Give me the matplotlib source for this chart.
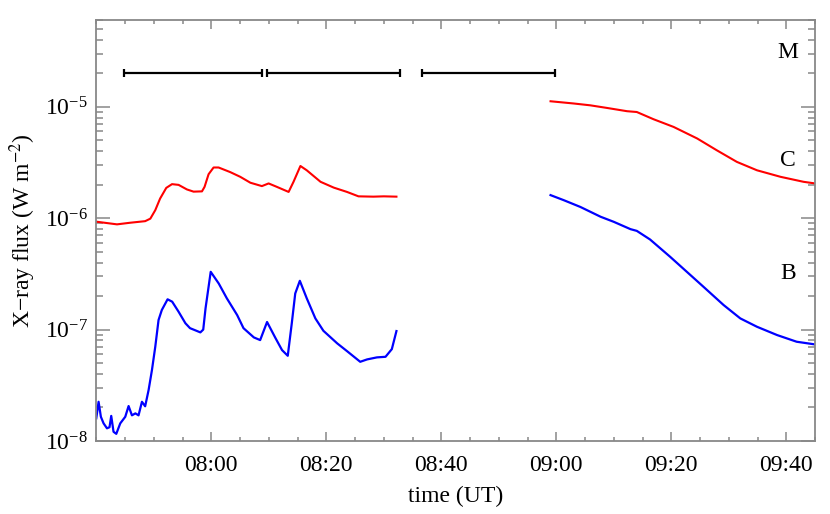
import numpy as np
import pandas as pd
import matplotlib
matplotlib.use('Agg')
import matplotlib.pyplot as plt
import matplotlib.dates as mdates
import matplotlib.ticker as mticker

plt.rcParams['font.family'] = 'Liberation Serif'
plt.rcParams['mathtext.fontset'] = 'stix'
plt.rcParams.update({'font.size': 17})

# reference time; all times below are minutes after 07:40 UT
t_ref = pd.Timestamp('2000-01-01 07:40:00')
x_ticks = ['08:00', '08:20', '08:40', '09:00', '09:20', '09:40']

# low-energy channel (red), before the gap
red1_t = [0, 3.6, 5.9, 8.5, 9.4, 10.26, 11.1, 12.17, 13.17, 14.31, 15.77, 16.92, 18.38,
          18.83, 19.53, 20.4, 21.27, 23.3, 25.04, 26.8, 28.8, 29.97, 31.4, 33.45, 34.3,
          35.5, 36.6, 39.0, 41.3, 43.6, 45.6, 48.2, 50.0, 52.2]
red1_f = [9.3e-7, 8.8e-7, 9.1e-7, 9.4e-7, 9.9e-7, 1.18e-6, 1.50e-6, 1.87e-6, 2.02e-6,
          1.99e-6, 1.81e-6, 1.73e-6, 1.74e-6, 1.91e-6, 2.48e-6, 2.85e-6, 2.85e-6, 2.59e-6,
          2.35e-6, 2.08e-6, 1.94e-6, 2.05e-6, 1.91e-6, 1.72e-6, 2.12e-6, 2.94e-6, 2.69e-6,
          2.12e-6, 1.88e-6, 1.72e-6, 1.57e-6, 1.56e-6, 1.57e-6, 1.56e-6]

# high-energy channel (blue), before the gap
blue1_t = [0, 0.4, 0.8, 1.27, 1.86, 2.3, 2.6, 3.0, 3.48, 4.17, 5.04, 5.62, 6.2, 6.8, 7.35,
           7.94, 8.5, 9.1, 9.68, 10.26, 10.83, 11.4, 12.4, 13.2, 14.3, 15.5, 16.3, 18.1,
           18.6, 19.0, 19.9, 21.3, 22.7, 24.5, 25.6, 27.4, 28.5, 29.7, 31.1, 32.3, 33.3,
           34.0, 34.6, 35.4, 36.6, 38.1, 39.5, 41.9, 43.6, 45.9, 47.1, 48.8, 50.3, 51.4, 52.2]
blue1_f = [1.60e-8, 2.25e-8, 1.65e-8, 1.44e-8, 1.30e-8, 1.33e-8, 1.68e-8, 1.21e-8, 1.16e-8,
           1.44e-8, 1.65e-8, 2.06e-8, 1.70e-8, 1.77e-8, 1.70e-8, 2.25e-8, 2.05e-8, 2.87e-8,
           4.33e-8, 7.02e-8, 1.22e-7, 1.50e-7, 1.87e-7, 1.78e-7, 1.45e-7, 1.14e-7, 1.03e-7,
           9.44e-8, 1.00e-7, 1.55e-7, 3.30e-7, 2.59e-7, 1.91e-7, 1.35e-7, 1.03e-7, 8.51e-8,
           8.05e-8, 1.17e-7, 8.51e-8, 6.55e-8, 5.82e-8, 1.14e-7, 2.11e-7, 2.74e-7, 1.91e-7,
           1.26e-7, 9.75e-8, 7.52e-8, 6.41e-8, 5.14e-8, 5.40e-8, 5.63e-8, 5.70e-8, 6.68e-8,
           9.70e-8]

# after the gap
red2_t = [79.0, 83.0, 85.9, 88.8, 92.3, 94.0, 96.9, 100.4, 104.5, 107.9, 111.4, 114.9,
          119.0, 123.0, 125.0]
red2_f = [1.12e-5, 1.07e-5, 1.03e-5, 9.76e-6, 9.12e-6, 8.97e-6, 7.73e-6, 6.59e-6, 5.19e-6,
          4.07e-6, 3.20e-6, 2.69e-6, 2.35e-6, 2.12e-6, 2.05e-6]

blue2_t = [79.0, 81.3, 84.2, 87.7, 90.0, 92.9, 94.0, 96.3, 99.8, 102.7, 105.6, 109.1,
           112.0, 114.9, 118.4, 121.8, 125.0]
blue2_f = [1.61e-6, 1.45e-6, 1.26e-6, 1.03e-6, 9.27e-7, 7.97e-7, 7.69e-7, 6.44e-7, 4.50e-7,
           3.30e-7, 2.42e-7, 1.66e-7, 1.26e-7, 1.06e-7, 8.93e-8, 7.78e-8, 7.36e-8]

# observing intervals (start, end) in minutes after 07:40
int_start = [4.75, 29.7, 56.6]
int_end = [28.8, 52.9, 79.8]
int_level = 2e-5

# GOES class labels
cls_names = ['M', 'C', 'B']
cls_level = [3.1e-5, 3.3e-6, 3.2e-7]
cls_t = 120.3


def to_num(mins):
    return mdates.date2num(t_ref + pd.to_timedelta(np.asarray(mins), unit='m'))


fig = plt.figure(figsize=(8.3, 5.14), dpi=100)
ax = fig.add_axes([0.116, 0.142, 0.866, 0.819])

ax.plot(to_num(red1_t), red1_f, color='red', lw=1.5)
ax.plot(to_num(blue1_t), blue1_f, color='blue', lw=1.6)
ax.plot(to_num(red2_t), red2_f, color='red', lw=1.5)
ax.plot(to_num(blue2_t), blue2_f, color='blue', lw=1.6)

# interval bars
s = to_num(int_start)
e = to_num(int_end)
ax.errorbar((s + e) / 2, [int_level] * len(s), xerr=(e - s) / 2, fmt='none',
            ecolor='black', elinewidth=1.6, capsize=3, capthick=1.6)

for name, lev in zip(cls_names, cls_level):
    ax.text(to_num([cls_t])[0], lev, name, ha='center', va='center')

ax.set_yscale('log')
ax.set_ylim(1e-8, 6e-5)
ax.set_xlim(to_num([0])[0], to_num([125])[0])

tick_pos = mdates.date2num(pd.to_datetime(['2000-01-01 ' + t for t in x_ticks]))
ax.set_xticks(tick_pos)
ax.set_xticklabels(x_ticks)
ax.xaxis.set_minor_locator(mdates.MinuteLocator(byminute=range(0, 60, 5)))
ax.yaxis.set_major_locator(mticker.LogLocator(base=10, numticks=10))
ax.yaxis.set_minor_locator(mticker.LogLocator(base=10, subs=np.arange(2, 10), numticks=20))
ax.yaxis.set_minor_formatter(mticker.NullFormatter())

gray = '#888888'
for sp in ax.spines.values():
    sp.set_color(gray)
    sp.set_linewidth(1.3)
ax.tick_params(which='both', direction='in', top=True, right=True, color=gray, width=1.1)
ax.tick_params(axis='x', which='major', length=6.5, pad=10)
ax.tick_params(axis='x', which='minor', length=3.2)
ax.tick_params(axis='y', which='major', length=10, pad=6)
ax.tick_params(axis='y', which='minor', length=5)

ax.set_xlabel('time (UT)', labelpad=7)
ax.set_ylabel('X\u2212ray flux (W m$^{-2}$)', labelpad=5)

fig.savefig('out.png', dpi=100)
